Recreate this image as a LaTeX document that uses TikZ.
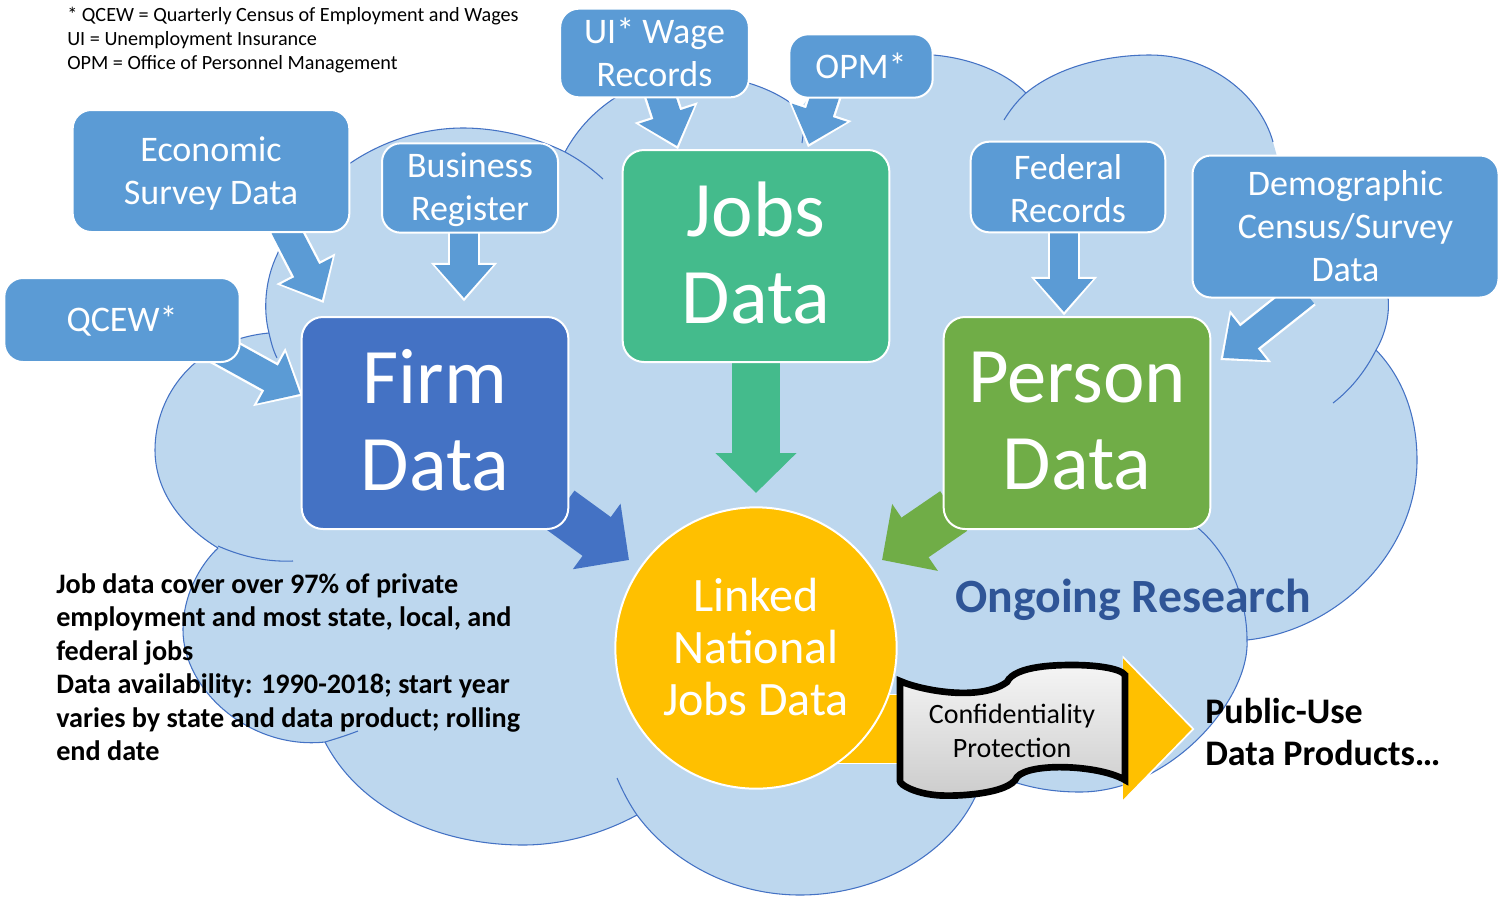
\documentclass[tikz,border=0pt]{standalone}
\usepackage{fontspec}
\setmainfont{Carlito}
\usetikzlibrary{arrows.meta, backgrounds, calc}
\definecolor{cloudfill}{HTML}{BDD7EE}
\definecolor{cloudline}{HTML}{4472C4}
\definecolor{srcblue}{HTML}{5B9BD5}
\definecolor{firmblue}{HTML}{4472C4}
\definecolor{jobsgreen}{HTML}{44BB8C}
\definecolor{persongreen}{HTML}{70AD47}
\definecolor{linkedgold}{HTML}{FFC000}
\definecolor{researchblue}{HTML}{2F5597}
\newcommand{\pad}[2]{\rule[-#2]{0pt}{\dimexpr#1+#2\relax}}

\begin{document}
\begin{tikzpicture}[x=.75pt, y=-.75pt,
    srcbox/.style={draw=white, line width=1.5pt, fill=srcblue, rounded corners=14pt, text=white, align=center, inner sep=0pt, font=\fontsize{27}{32.3}\selectfont},
    databox/.style={draw=white, line width=1.5pt, rounded corners=16pt, text=white, align=center, inner sep=0pt, minimum width=200pt, minimum height=159pt, font=\fontsize{59}{65.3}\selectfont},
    boldtext/.style={align=left, inner sep=0pt, font=\bfseries\fontsize{21.15}{25.15}\selectfont},
    srcarrow/.style={srcblue, line width=21pt, -{Triangle[length=24.75pt, width=42pt]},
      preaction={draw=white, line width=24.5pt, shorten >=-2.6pt, -{Triangle[length=29pt, width=48pt]}}},
    bigarrow/.style={#1, line width=36pt, -{Triangle[length=30pt, width=59pt]}},
    cloudedge/.style={cloudline, line width=.8pt}]
    \useasboundingbox (0, 0) rectangle (1498, 897);

    \node [srcbox, minimum width=207.5pt, minimum height=91.5pt] (econ) at (211, 171) {\pad{21.7pt}{0pt}Economic\\Survey Data};
    \node [srcbox, minimum width=132pt, minimum height=67pt] (biz) at (470, 188) {\pad{21.7pt}{0pt}Business\\Register};
    \node [srcbox, minimum width=176.5pt, minimum height=63pt] (qcew) at (122, 320) {\pad{20.5pt}{0pt}QCEW*};
    \node [srcbox, minimum width=141.5pt, minimum height=66.5pt] (ui) at (654.5, 53) {UI* Wage\\Records\pad{0pt}{1.5pt}};
    \node [srcbox, minimum width=107.5pt, minimum height=47.5pt] (opm) at (861, 66) {OPM*};
    \node [srcbox, minimum width=146pt, minimum height=68pt] (fed) at (1068, 187) {\pad{21.6pt}{0pt}Federal\\Records};
    \node [srcbox, minimum width=229.5pt, minimum height=106.5pt] (demo) at (1345.5, 226.5) {Demographic\\Census/Survey\\Data};

    \node [databox, fill=firmblue] (firm) at (435, 423) {Firm\\Data\pad{0pt}{4.5pt}};
    \node [databox, fill=jobsgreen] (jobs) at (756, 256) {Jobs\\Data\pad{0pt}{5pt}};
    \node [databox, fill=persongreen] (person) at (1077, 423) {Person\\Data\pad{0pt}{3.5pt}};

    \node [circle, draw=white, line width=1.5pt, fill=linkedgold, text=white, align=center, inner sep=0pt, minimum size=211pt,
      font=\fontsize{36}{39}\selectfont] (linked) at (756, 648) {Linked\\National\\Jobs Data\pad{0pt}{2pt}};
    \node [align=center, inner sep=0pt, font=\fontsize{21}{25.6}\selectfont] (conf) at (1012, 731) {Confidentiality\\Protection};

    \node [anchor=north west, align=left, inner sep=0pt, font=\fontsize{15.15}{18}\selectfont] (notes) at (67, 7)
      {* QCEW = Quarterly Census of Employment and Wages\\UI = Unemployment Insurance\\OPM = Office of Personnel Management};
    \node [boldtext, anchor=north west] (facts) at (56, 573)
      {Job data cover over 97\% of private\\employment and most state, local, and\\federal jobs\\Data availability: 1990-2018; start year\\varies by state and data product; rolling\\end date};
    \node [text=researchblue, inner sep=0pt, font=\bfseries\fontsize{35.8}{40}\selectfont] (research) at (1133, 600) {Ongoing Research};
    \node [anchor=west, align=left, inner sep=0pt, font=\bfseries\fontsize{27}{32}\selectfont] (public) at (1205, 732) {Public-Use\\Data Products…};

    \coordinate (econtip) at (322, 300);
    \coordinate (biztip) at (464, 298);
    \coordinate (qcewtip) at (300, 394);
    \coordinate (uitip) at (677, 146);
    \coordinate (opmtip) at (809, 144);
    \coordinate (fedtip) at (1064, 312);
    \coordinate (demotip) at (1223, 358);
    \coordinate (jobstip) at (756, 493);
    \coordinate (firmtip) at (629, 560);
    \coordinate (persontip) at (882, 560);
    \coordinate (pubtip) at (1192, 729);

    \begin{scope}[on background layer]
      \fill [cloudfill] (218, 548) .. controls (180, 525) and (155, 490) .. (155, 450)
        .. controls (155, 395) and (195, 340) .. (269, 333)
        .. controls (263, 310) and (265, 280) .. (277, 255)
        .. controls (295, 210) and (330, 175) .. (352, 162)
        .. controls (385, 140) and (425, 128) .. (463, 128)
        .. controls (497, 128) and (535, 137) .. (565, 152)
        .. controls (590, 105) and (640, 75) .. (690, 75)
        .. controls (730, 75) and (770, 85) .. (800, 110)
        .. controls (820, 75) and (880, 50) .. (933, 55)
        .. controls (970, 58) and (1005, 72) .. (1026, 93)
        .. controls (1060, 65) and (1110, 55) .. (1150, 55)
        .. controls (1210, 55) and (1260, 95) .. (1273, 142)
        -- (1278, 160) -- (1388, 297)
        .. controls (1390, 315) and (1385, 335) .. (1376, 350)
        .. controls (1405, 380) and (1417, 420) .. (1417, 460)
        .. controls (1417, 550) and (1340, 630) .. (1247, 640)
        .. controls (1250, 700) and (1170, 792) .. (1080, 792)
        .. controls (1045, 792) and (1015, 785) .. (985, 770)
        .. controls (965, 850) and (880, 895) .. (800, 895)
        .. controls (730, 895) and (670, 860) .. (637, 815)
        .. controls (600, 835) and (560, 845) .. (523, 845)
        .. controls (440, 845) and (360, 810) .. (325, 742)
        .. controls (250, 750) and (183, 690) .. (183, 630)
        .. controls (183, 595) and (200, 565) .. (218, 548) -- cycle;

      \draw [cloudedge] (218, 548) .. controls (180, 525) and (155, 490) .. (155, 450)
        .. controls (155, 395) and (195, 340) .. (269, 333);
      \draw [cloudedge] (277, 358) .. controls (273, 350) and (271, 342) .. (269, 333)
        .. controls (263, 310) and (265, 280) .. (277, 255)
        .. controls (295, 210) and (330, 175) .. (352, 162)
        .. controls (385, 140) and (425, 128) .. (463, 128)
        .. controls (497, 128) and (535, 137) .. (565, 152)
        .. controls (580, 160) and (592, 169) .. (603, 179);
      \draw [cloudedge] (565, 152) .. controls (590, 105) and (640, 75) .. (690, 75)
        .. controls (730, 75) and (770, 85) .. (800, 110);
      \draw [cloudedge] (802, 143) .. controls (803, 135) and (805, 120) .. (812, 100)
        .. controls (830, 70) and (880, 50) .. (933, 55)
        .. controls (970, 58) and (1005, 72) .. (1026, 93);
      \draw [cloudedge] (1004, 120) .. controls (1010, 110) and (1018, 100) .. (1026, 93)
        .. controls (1060, 65) and (1110, 55) .. (1150, 55)
        .. controls (1210, 55) and (1260, 95) .. (1273, 142);
      \draw [cloudedge] (1388, 297) .. controls (1390, 315) and (1385, 335) .. (1376, 350)
        .. controls (1365, 372) and (1350, 390) .. (1333, 403);
      \draw [cloudedge] (1376, 350) .. controls (1405, 380) and (1417, 420) .. (1417, 460)
        .. controls (1417, 550) and (1340, 630) .. (1247, 640);
      \draw [cloudedge] (1198, 528) .. controls (1230, 555) and (1247, 600) .. (1247, 640)
        .. controls (1250, 700) and (1170, 792) .. (1080, 792)
        .. controls (1045, 792) and (1015, 785) .. (985, 770);
      \draw [cloudedge] (985, 770) .. controls (965, 850) and (880, 895) .. (800, 895)
        .. controls (730, 895) and (670, 860) .. (637, 815)
        .. controls (630, 805) and (623, 792) .. (617, 778);
      \draw [cloudedge] (637, 815) .. controls (600, 835) and (560, 845) .. (523, 845)
        .. controls (440, 845) and (360, 810) .. (325, 742);
      \draw [cloudedge] (358, 731) .. controls (345, 736) and (335, 739) .. (325, 742)
        .. controls (250, 750) and (183, 690) .. (183, 630)
        .. controls (183, 595) and (200, 565) .. (218, 548);
      \draw [cloudedge] (218, 546) .. controls (245, 558) and (270, 562) .. (293, 561);

      \draw [srcarrow] ($(econ.south)+(73, -6)$) -- (econtip);
      \draw [srcarrow] ($(biz.south)+(-6, -5)$) -- (biztip);
      \draw [srcarrow] ($(qcew.south east)+(-24, -15)$) -- (qcewtip);
      \draw [srcarrow] ($(ui.south)+(5, -6)$) -- (uitip);
      \draw [srcarrow] ($(opm.south)+(-35, -6)$) -- (opmtip);
      \draw [srcarrow] ($(fed.south)+(-4, -5)$) -- (fedtip);
      \draw [srcarrow] ($(demo.south)+(-40, -6)$) -- (demotip);

      \draw [bigarrow=jobsgreen] (jobs.south) -- (jobstip);
      \draw [bigarrow=firmblue] ($(firm.south east)+(-9, -20)$) -- (firmtip);
      \draw [bigarrow=persongreen] ($(person.south west)+(11, -19)$) -- (persontip);

      \draw [linkedgold, line width=51pt, -{Triangle[length=51.75pt, width=102.75pt]},
        preaction={draw=white, line width=53pt, shorten >=-2pt, -{Triangle[length=54pt, width=107pt]}}] (linked |- pubtip) -- (pubtip);

      \draw [black, line width=5pt, top color=white!96!black, bottom color=white!80!black, miter limit=4]
        (900, 681) .. controls (920, 690) and (980, 702) .. (1007, 682)
        .. controls (1015, 665) and (1060, 665) .. (1073, 665)
        .. controls (1095, 665) and (1120, 668) .. (1125, 675)
        -- (1125, 780)
        .. controls (1100, 765) and (1030, 762) .. (1017, 777)
        .. controls (1010, 795) and (950, 797) .. (935, 795)
        .. controls (915, 793) and (900, 785) .. (900, 781) -- cycle;
    \end{scope}
  \end{tikzpicture}
\end{document}
